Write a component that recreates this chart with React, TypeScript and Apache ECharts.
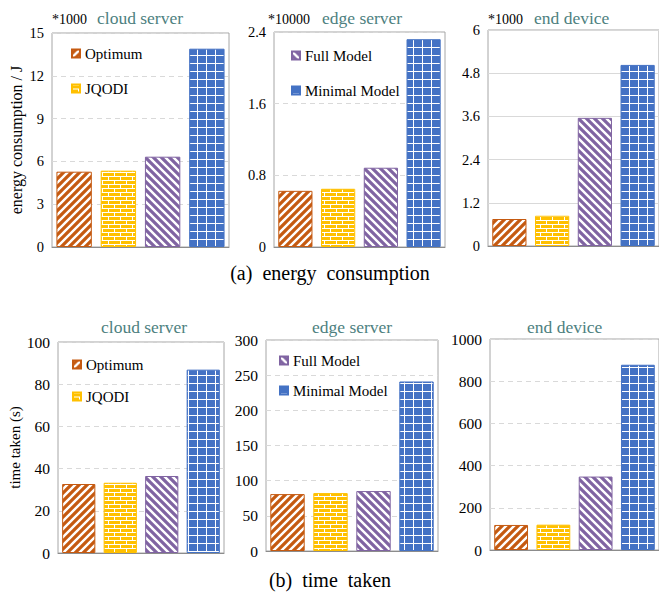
import React, { useEffect, useRef } from "react";
import * as echarts from "echarts";

const methods = ["Optimum", "JQODI", "Full Model", "Minimal Model"];
const energyCloud = [5.28, 5.35, 6.33, 13.9];
const energyEdge = [0.627, 0.65, 0.885, 2.32];
const energyDevice = [0.75, 0.84, 3.56, 5.03];
const timeCloud = [32.7, 33.3, 36.5, 86.9];
const timeEdge = [80.9, 82.3, 85.2, 241];
const timeDevice = [118.7, 120, 348, 878];

const panelTitles = ["cloud server", "edge server", "end device"];
const energyMultipliers = ["*1000", "*10000", "*1000"];
const energyAxisMax = [15, 2.4, 6];
const energyAxisStep = [3, 0.8, 1.2];
const timeAxisMax = [100, 300, 1000];
const timeAxisStep = [20, 50, 200];

const SERIF = "'Liberation Serif', 'Times New Roman', serif";
const TEAL = "#4D7F80";
const baseColors = ["#C55A11", "#FFC000", "#8064A2", "#4472C4"];

function makePattern(kind: number): HTMLCanvasElement {
  const c = document.createElement("canvas");
  const ctx = c.getContext("2d")!;
  if (kind === 0 || kind === 2) {
    c.width = 8;
    c.height = 8;
    ctx.fillStyle = baseColors[kind];
    ctx.fillRect(0, 0, 8, 8);
    ctx.strokeStyle = "#ffffff";
    ctx.lineWidth = 2.4;
    ctx.beginPath();
    if (kind === 0) {
      ctx.moveTo(-4, 4); ctx.lineTo(4, -4);
      ctx.moveTo(0, 8); ctx.lineTo(8, 0);
      ctx.moveTo(4, 12); ctx.lineTo(12, 4);
    } else {
      ctx.moveTo(-4, 4); ctx.lineTo(4, 12);
      ctx.moveTo(0, 0); ctx.lineTo(8, 8);
      ctx.moveTo(4, -4); ctx.lineTo(12, 4);
    }
    ctx.stroke();
  } else if (kind === 1) {
    c.width = 12;
    c.height = 8;
    ctx.fillStyle = baseColors[1];
    ctx.fillRect(0, 0, 12, 8);
    ctx.fillStyle = "#ffffff";
    ctx.fillRect(0, 0, 12, 1);
    ctx.fillRect(0, 4, 12, 1);
    ctx.fillRect(0, 0, 1, 4);
    ctx.fillRect(6, 4, 1, 4);
  } else {
    c.width = 9;
    c.height = 8;
    ctx.fillStyle = baseColors[3];
    ctx.fillRect(0, 0, 9, 8);
    ctx.fillStyle = "#ffffff";
    ctx.fillRect(8, 0, 1, 8);
    ctx.fillRect(0, 7, 9, 1);
  }
  return c;
}

export default function App() {
  const ref = useRef<HTMLDivElement>(null);
  useEffect(() => {
    document.body.style.margin = "0";
    if (!ref.current) return;
    const chart = echarts.init(ref.current, undefined, { renderer: "svg" });
    const patterns = [0, 1, 2, 3].map((k) => ({
      image: makePattern(k),
      repeat: "repeat",
    }));

    const grids = [
      { left: 52, top: 33, width: 177, height: 214 },
      { left: 274, top: 32, width: 171, height: 215 },
      { left: 488, top: 30, width: 173, height: 216 },
      { left: 58, top: 342, width: 166, height: 211 },
      { left: 266, top: 340, width: 172, height: 211 },
      { left: 490, top: 339, width: 171, height: 211 },
    ];
    const panelData = [energyCloud, energyEdge, energyDevice, timeCloud, timeEdge, timeDevice];
    const maxes = [...energyAxisMax, ...timeAxisMax];
    const steps = [...energyAxisStep, ...timeAxisStep];

    const series: any[] = [];
    panelData.forEach((vals, p) => {
      methods.forEach((m, i) => {
        series.push({
          type: "bar",
          name: m,
          xAxisIndex: p,
          yAxisIndex: p,
          stack: "s" + p,
          barWidth: "80%",
          data: methods.map((_, j) => (j === i ? vals[i] : "-")),
          itemStyle: {
            color: patterns[i],
            borderColor: baseColors[i],
            borderWidth: 1,
          },
          emphasis: { disabled: true },
        });
      });
    });

    const legendBase = {
      orient: "vertical",
      icon: "rect",
      itemWidth: 8,
      itemHeight: 8,
      selectedMode: false,
      textStyle: { fontFamily: SERIF, fontSize: 15, color: "#000" },
    };

    const graphics: any[] = [];
    const titleXs = [97, 322, 534];
    const multXs = [52, 268, 488];
    for (let k = 0; k < 3; k++) {
      graphics.push({
        type: "text",
        x: multXs[k],
        y: 19,
        style: {
          text: energyMultipliers[k],
          fontFamily: SERIF,
          fontSize: 14,
          fill: "#000",
          verticalAlign: "middle",
        },
      });
      graphics.push({
        type: "text",
        x: titleXs[k],
        y: 18,
        style: {
          text: panelTitles[k],
          fontFamily: SERIF,
          fontSize: 17.5,
          fill: TEAL,
          verticalAlign: "middle",
        },
      });
    }
    const bTitleXs = [101, 312, 527];
    for (let k = 0; k < 3; k++) {
      graphics.push({
        type: "text",
        x: bTitleXs[k],
        y: 327,
        style: {
          text: panelTitles[k],
          fontFamily: SERIF,
          fontSize: 17.5,
          fill: TEAL,
          verticalAlign: "middle",
        },
      });
    }
    graphics.push({
      type: "text",
      x: 330,
      y: 273,
      style: {
        text: "(a)  energy  consumption",
        fontFamily: SERIF,
        fontSize: 20,
        fill: "#000",
        align: "center",
        verticalAlign: "middle",
      },
    });
    graphics.push({
      type: "text",
      x: 330,
      y: 580,
      style: {
        text: "(b)  time  taken",
        fontFamily: SERIF,
        fontSize: 20,
        fill: "#000",
        align: "center",
        verticalAlign: "middle",
      },
    });

    const option: any = {
      animation: false,
      grid: grids.map((g) => ({
        ...g,
        show: true,
        borderColor: "#a6a6a6",
        borderWidth: 1,
        backgroundColor: "transparent",
      })),
      xAxis: grids.map((_, p) => ({
        type: "category",
        gridIndex: p,
        data: methods,
        axisLabel: { show: false },
        axisTick: { show: false },
        axisLine: { show: true, lineStyle: { color: "#8c8c8c", width: 1 } },
      })),
      yAxis: grids.map((_, p) => ({
        type: "value",
        gridIndex: p,
        min: 0,
        max: maxes[p],
        interval: steps[p],
        axisLine: { show: false },
        axisTick: { show: false },
        axisLabel: {
          fontFamily: SERIF,
          fontSize: p < 3 ? 14.5 : 15.5,
          color: "#000",
          margin: 8,
          formatter: (v: number) => String(Math.round(v * 1000) / 1000),
        },
        splitLine: {
          show: true,
          lineStyle: {
            color: "#d9d9d9",
            type: p === 2 ? "solid" : [5, 4],
            width: 1,
          },
        },
        name:
          p === 0 ? "energy consumption / J" : p === 3 ? "time taken (s)" : "",
        nameLocation: "middle",
        nameGap: p === 0 ? 28 : 34,
        nameTextStyle: {
          fontFamily: SERIF,
          fontSize: p === 0 ? 16 : 15,
          color: "#000",
        },
      })),
      legend: [
        { ...legendBase, left: 66, top: 41, itemGap: 20, data: ["Optimum", "JQODI"] },
        { ...legendBase, left: 286, top: 43, itemGap: 20, data: ["Full Model", "Minimal Model"] },
        { ...legendBase, left: 67, top: 352, itemGap: 17, data: ["Optimum", "JQODI"] },
        { ...legendBase, left: 274, top: 348, itemGap: 15, data: ["Full Model", "Minimal Model"] },
      ],
      graphic: graphics,
      series,
    };
    chart.setOption(option);
    return () => chart.dispose();
  }, []);
  return <div ref={ref} style={{ width: 659, height: 595 }} />;
}
